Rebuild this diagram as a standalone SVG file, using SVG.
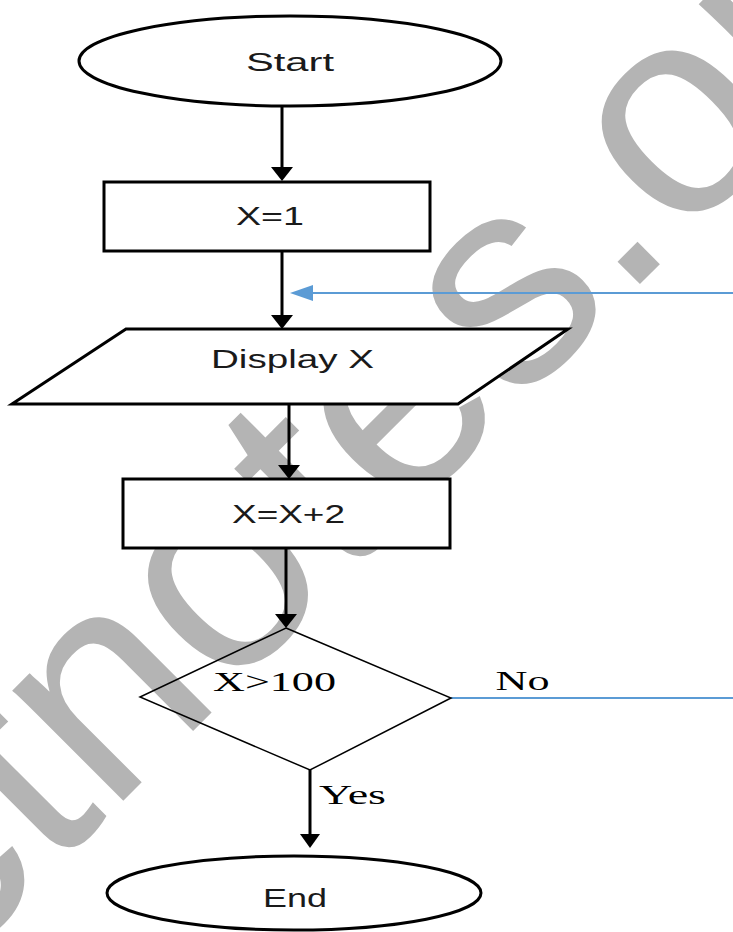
<svg xmlns="http://www.w3.org/2000/svg" width="733" height="932" viewBox="0 0 733 932">
<style>
.bg{fill:#ffffff}
.wm{fill:#b4b4b4;font-family:"Liberation Sans",Arial,sans-serif;font-size:296px}
.term{fill:#ffffff;stroke:#000000;stroke-width:3}
.box{fill:#ffffff;stroke:#000000;stroke-width:3}
.dia{fill:none;stroke:#000000;stroke-width:1.5}
.lbl{font-family:"Liberation Sans",Arial,sans-serif;fill:#1a1a1a;text-anchor:middle}
.ser{font-family:"Liberation Serif","Times New Roman",serif;fill:#000000}
.edge{fill:none;stroke:#000000;stroke-width:3}
.blue{fill:none;stroke:#5b9bd5;stroke-width:2}
</style>
<rect class="bg" x="0" y="0" width="733" height="932"/>
<text class="wm" transform="translate(-54,978) rotate(-45)">ctnotes.org</text>
<g id="connectors">
<line class="edge" x1="282" y1="106" x2="282" y2="168"/>
<path d="M271,167 L293,167 L282,181 Z"/>
<line class="edge" x1="282" y1="251" x2="282" y2="316"/>
<path d="M271,315 L293,315 L282,329 Z"/>
<line class="edge" x1="289" y1="404" x2="289" y2="466"/>
<path d="M278,465 L300,465 L289,479 Z"/>
<line class="edge" x1="286" y1="548" x2="286" y2="615"/>
<path d="M275,614 L297,614 L286,628 Z"/>
<line class="edge" x1="310" y1="770" x2="310" y2="835"/>
<path d="M300,834 L320,834 L310,848 Z"/>
<line class="blue" x1="733" y1="293" x2="300" y2="293"/>
<path d="M290,293 L313,285 L313,301 Z" fill="#5b9bd5"/>
<line class="blue" x1="451" y1="698" x2="733" y2="698"/>
<text class="ser" x="495.5" y="690" font-size="27" textLength="54" lengthAdjust="spacingAndGlyphs">No</text>
<text class="ser" x="319" y="804" font-size="27" textLength="67" lengthAdjust="spacingAndGlyphs">Yes</text>
</g>
<g id="start">
<ellipse class="term" cx="290" cy="61" rx="211" ry="45"/>
<text class="lbl" x="290" y="71" font-size="26" textLength="88" lengthAdjust="spacingAndGlyphs">Start</text>
</g>
<g id="init">
<rect class="box" x="104" y="182" width="326" height="69"/>
<text class="lbl" x="270" y="225" font-size="26" textLength="68" lengthAdjust="spacingAndGlyphs">X=1</text>
</g>
<g id="display">
<polygon class="box" points="126,329 568,329 458,404 12,404"/>
<text class="lbl" x="292.5" y="368" font-size="25" textLength="163" lengthAdjust="spacingAndGlyphs">Display X</text>
</g>
<g id="increment">
<rect class="box" x="123" y="479" width="327" height="69"/>
<text class="lbl" x="288.5" y="523" font-size="26" textLength="113" lengthAdjust="spacingAndGlyphs">X=X+2</text>
</g>
<g id="decision">
<polygon class="dia" points="286,628 451,698 310,770 140,697"/>
<text class="ser" x="213" y="691" font-size="28" textLength="123" lengthAdjust="spacingAndGlyphs">X&gt;100</text>
</g>
<g id="end">
<ellipse class="term" cx="294" cy="893" rx="187" ry="37"/>
<text class="lbl" x="295" y="907" font-size="25" textLength="64" lengthAdjust="spacingAndGlyphs">End</text>
</g>
</svg>
